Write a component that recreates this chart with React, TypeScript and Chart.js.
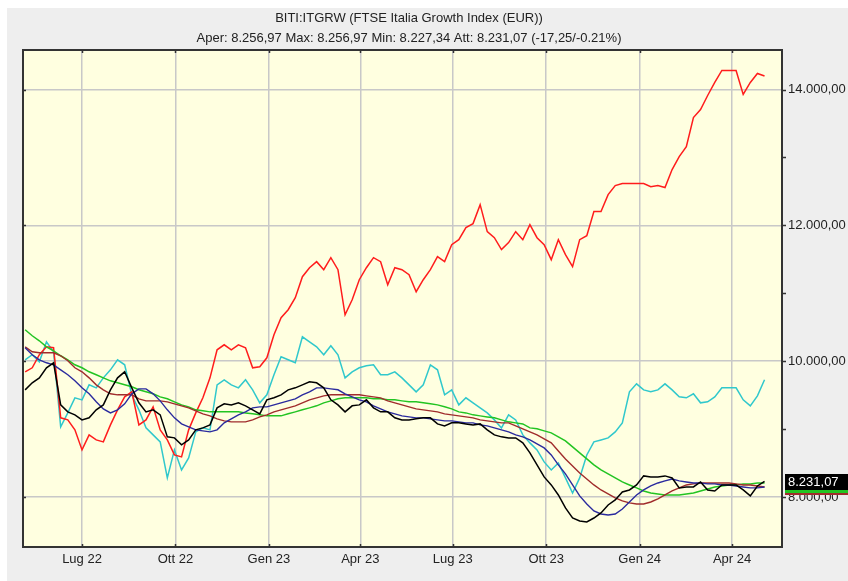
import React, { useEffect, useRef } from "react";
import { Chart, registerables } from "chart.js";

Chart.register(...registerables);

const TITLE = "BITI:ITGRW (FTSE Italia Growth Index (EUR))";
const SUBTITLE = "Aper: 8.256,97 Max: 8.256,97 Min: 8.227,34 Att: 8.231,07 (-17,25/-0.21%)";

// Days counted from 1 Jul 2022 (weekly samples)
const days = [
  -56, -49, -42, -35, -28, -21, -14, -7, 0, 7, 14, 21, 28, 35, 42, 49, 56, 63, 70, 77,
  84, 91, 98, 105, 112, 119, 126, 133, 140, 147, 154, 161, 168, 175, 182, 189, 196, 203, 210, 217,
  224, 231, 238, 245, 252, 259, 266, 273, 280, 287, 294, 301, 308, 315, 322, 329, 336, 343, 350, 357,
  364, 371, 378, 385, 392, 399, 406, 413, 420, 427, 434, 441, 448, 455, 462, 469, 476, 483, 490, 497,
  504, 511, 518, 525, 532, 539, 546, 553, 560, 567, 574, 581, 588, 595, 602, 609, 616, 623, 630, 637,
  644, 651, 658, 665, 672,
];

const xMin = -58.1;
const xMax = 689.2;
const tickDays = [0, 92, 184, 274, 365, 457, 549, 640];
const tickLabels = ["Lug 22", "Ott 22", "Gen 23", "Apr 23", "Lug 23", "Ott 23", "Gen 24", "Apr 24"];

const yMin = 7263;
const yMax = 14582;
const yTicks = [8000, 10000, 12000, 14000];
const yMinorTicks = [8000, 9000, 10000, 11000, 12000, 13000, 14000];

// FTSE Italia Growth index (black)
const indexSeries = [
  9577, 9681, 9754, 9902, 9976, 9356, 9253, 9209, 9135, 9165,
  9283, 9356, 9577, 9754, 9843, 9607, 9386, 9253, 9283, 9209,
  8885, 8870, 8767, 8840, 8988, 9017, 9061, 9312, 9371, 9356,
  9386, 9342, 9283, 9224, 9430, 9460, 9504, 9577, 9607, 9651,
  9695, 9681, 9607, 9430, 9356, 9253, 9342, 9356, 9430, 9312,
  9253, 9253, 9165, 9135, 9135, 9150, 9165, 9165, 9076, 9047,
  9091, 9091, 9076, 9061, 9076, 8988, 8914, 8885, 8870, 8870,
  8796, 8649, 8472, 8295, 8177, 8029, 7838, 7690, 7646, 7631,
  7690, 7764, 7882, 7956, 8074, 8103, 8177, 8310, 8295, 8295,
  8310, 8280, 8133, 8147, 8147, 8221, 8103, 8088, 8177, 8177,
  8177, 8103, 8015, 8162, 8231.07,
];

// Short moving average (blue)
const maShort = [
  10197, 10094, 10020, 9976, 9946, 9872, 9799, 9710, 9607, 9519,
  9401, 9297, 9238, 9283, 9371, 9519, 9592, 9592, 9519, 9415,
  9283, 9165, 9076, 9032, 8988, 8973, 8958, 8988, 9091, 9150,
  9209, 9253, 9312, 9327, 9327, 9356, 9386, 9415, 9445, 9504,
  9548, 9607, 9607, 9592, 9578, 9519, 9474, 9430, 9401, 9342,
  9297, 9253, 9224, 9194, 9179, 9165, 9165, 9150, 9135, 9120,
  9120, 9106, 9091, 9091, 9061, 9047, 9017, 8988, 8958, 8914,
  8885, 8840, 8781, 8722, 8619, 8472, 8339, 8177, 8015, 7897,
  7794, 7749, 7735, 7749, 7823, 7926, 8029, 8103, 8162, 8206,
  8236, 8265, 8236, 8221, 8206, 8206, 8192, 8192, 8177, 8177,
  8162, 8147, 8133, 8133, 8147,
];

// Medium moving average (brown)
const maMedium = [
  10211, 10138, 10123, 10123, 10123, 10079, 10005, 9902, 9843, 9754,
  9651, 9578, 9519, 9504, 9504, 9504, 9445, 9415, 9415, 9415,
  9401, 9371, 9342, 9312, 9268, 9224, 9194, 9150, 9120, 9106,
  9106, 9106, 9135, 9179, 9209, 9253, 9283, 9312, 9342, 9386,
  9430, 9460, 9489, 9504, 9504, 9504, 9504, 9504, 9489, 9474,
  9460, 9415, 9386, 9356, 9327, 9297, 9283, 9268, 9253, 9224,
  9209, 9194, 9179, 9165, 9135, 9120, 9106, 9091, 9091, 9047,
  9003, 8958, 8914, 8855, 8796, 8678, 8560, 8457, 8354, 8265,
  8177, 8103, 8044, 7985, 7941, 7912, 7897, 7897, 7926, 7971,
  8029, 8088, 8133, 8177, 8192, 8206, 8206, 8206, 8206, 8206,
  8192, 8177, 8177, 8162, 8147,
];

// Long moving average (green)
const maLong = [
  10462, 10374, 10300, 10211, 10152, 10079, 10020, 9946, 9902, 9843,
  9799, 9754, 9710, 9681, 9651, 9622, 9578, 9548, 9519, 9474,
  9445, 9401, 9356, 9327, 9283, 9268, 9253, 9253, 9253, 9253,
  9253, 9238, 9224, 9209, 9194, 9194, 9194, 9224, 9253, 9283,
  9312, 9342, 9386, 9415, 9445, 9460, 9460, 9460, 9460, 9445,
  9445, 9430, 9430, 9415, 9401, 9401, 9386, 9371, 9356, 9327,
  9297, 9253, 9238, 9209, 9194, 9179, 9165, 9135, 9106, 9091,
  9076, 9017, 9003, 8973, 8944, 8885, 8826, 8737, 8649, 8560,
  8472, 8398, 8339, 8280, 8221, 8177, 8133, 8088, 8059, 8044,
  8029, 8029, 8029, 8044, 8059, 8088, 8118, 8147, 8162, 8177,
  8177, 8192, 8192, 8206, 8206,
];

// Comparison series (red)
const redSeries = [
  9843, 9902, 10094, 10211, 10197, 9165, 9135, 8988, 8693, 8914,
  8840, 8811, 9061, 9283, 9474, 9548, 9061, 9135, 9327, 8988,
  8840, 8619, 8590, 8988, 9238, 9460, 9754, 10167, 10241, 10167,
  10241, 10197, 9902, 9917, 10049, 10388, 10639, 10757, 10934, 11243,
  11376, 11465, 11347, 11524, 11347, 10683, 10904, 11199, 11376, 11524,
  11465, 11126, 11376, 11347, 11273, 11022, 11199, 11347, 11538, 11465,
  11715, 11789, 11966, 12025, 12305, 11907, 11818, 11642, 11745, 11907,
  11789, 12010, 11818, 11715, 11494, 11789, 11568, 11391, 11789, 11848,
  12202, 12202, 12452, 12585, 12615, 12615, 12615, 12615, 12570, 12585,
  12556, 12821, 13013, 13160, 13588, 13706, 13912, 14104, 14281, 14281,
  14281, 13927, 14104, 14236, 14200,
];

// Comparison series (cyan)
const cyanSeries = [
  10020, 10094, 9990, 10285, 10138, 9032, 9238, 9460, 9430, 9651,
  9607, 9754, 9872, 10020, 9946, 9504, 9283, 9017, 8914, 8811,
  8280, 8693, 8398, 8575, 8958, 9017, 8988, 9651, 9725, 9651,
  9607, 9725, 9577, 9386, 9504, 9799, 10064, 10020, 9976, 10359,
  10285, 10211, 10094, 10226, 10094, 9754, 9843, 9902, 9931, 9946,
  9799, 9799, 9843, 9754, 9651, 9548, 9651, 9946, 9872, 9504,
  9577, 9356, 9460, 9386, 9312, 9238, 9135, 9017, 9209, 9135,
  8914, 8796, 8693, 8516, 8398, 8501, 8280, 8059, 8280, 8619,
  8811, 8840, 8870, 8958, 9091, 9548, 9666, 9577, 9548, 9577,
  9666, 9577, 9474, 9460, 9519, 9386, 9401, 9474, 9607, 9607,
  9607, 9430, 9342, 9489, 9725,
];

const COLORS = {
  index: "#000000",
  short: "#2b2b9e",
  medium: "#a02c2c",
  long: "#22c422",
  red: "#ff1c1c",
  cyan: "#30c8cc",
  panel: "#eeeeee",
  plot: "#ffffe0",
  grid: "#c8c8c8",
  frame: "#333333",
  text: "#222222",
};

const FONT = "'Liberation Sans', Arial, Helvetica, sans-serif";

function fmt(v: number): string {
  const [i, d] = Math.abs(v).toFixed(2).split(".");
  return (v < 0 ? "-" : "") + i.replace(/\B(?=(\d{3})+(?!\d))/g, ".") + "," + d;
}

const framePlugin = {
  id: "frame",
  beforeDraw(chart: any) {
    const { ctx, chartArea: a } = chart;
    ctx.save();
    ctx.fillStyle = COLORS.panel;
    ctx.fillRect(0, 0, chart.width, chart.height);
    ctx.fillStyle = COLORS.plot;
    ctx.fillRect(a.left, a.top, a.right - a.left, a.bottom - a.top);
    ctx.restore();
  },
  afterDraw(chart: any) {
    const { ctx, chartArea: a } = chart;
    const xs = chart.scales.x;
    const ys = chart.scales.y;
    ctx.save();
    // frame
    ctx.strokeStyle = COLORS.frame;
    ctx.lineWidth = 2;
    ctx.strokeRect(a.left, a.top, a.right - a.left, a.bottom - a.top);
    // tick marks
    ctx.lineWidth = 1.5;
    ctx.beginPath();
    for (const v of yMinorTicks) {
      const py = Math.round(ys.getPixelForValue(v)) + 0.5;
      ctx.moveTo(a.right, py);
      ctx.lineTo(a.right + 4, py);
    }
    for (const v of yTicks) {
      const py = Math.round(ys.getPixelForValue(v)) + 0.5;
      ctx.moveTo(a.left, py);
      ctx.lineTo(a.left + 3, py);
    }
    for (const d of tickDays) {
      const px = Math.round(xs.getPixelForValue(d)) + 0.5;
      ctx.moveTo(px, a.top);
      ctx.lineTo(px, a.top + 3);
      ctx.moveTo(px, a.bottom);
      ctx.lineTo(px, a.bottom - 3);
    }
    ctx.stroke();

    // titles
    ctx.fillStyle = COLORS.text;
    ctx.font = `13px ${FONT}`;
    ctx.textAlign = "center";
    ctx.textBaseline = "middle";
    const cx = 402;
    ctx.fillText(TITLE, cx, 10);
    ctx.fillText(SUBTITLE, cx, 30);

    // last value box
    const last = indexSeries[indexSeries.length - 1];
    const py = ys.getPixelForValue(last);
    const bx = a.right + 3;
    const top = Math.round(py - 7);
    ctx.fillStyle = "#000000";
    ctx.fillRect(bx, top, chart.width - bx, 16);
    ctx.fillStyle = COLORS.long;
    ctx.fillRect(bx, top + 16, chart.width - bx, 3);
    ctx.fillStyle = COLORS.medium;
    ctx.fillRect(bx, top + 19, chart.width - bx, 2);
    ctx.fillStyle = "#ffffff";
    ctx.textAlign = "left";
    ctx.font = `13px ${FONT}`;
    ctx.fillText(fmt(last), bx + 3, top + 8.5);
    ctx.restore();
  },
};

function series(values: number[]) {
  return days.map((d, i) => ({ x: d, y: values[i] }));
}

export default function App() {
  const ref = useRef<HTMLCanvasElement>(null);

  useEffect(() => {
    const canvas = ref.current;
    if (!canvas) return;
    const line = (label: string, values: number[], color: string, width: number) => ({
      label,
      data: series(values),
      borderColor: color,
      backgroundColor: color,
      borderWidth: width,
      pointRadius: 0,
      tension: 0,
      fill: false,
    });
    const chart = new Chart(canvas, {
      type: "line",
      data: {
        datasets: [
          line("ITGRW", indexSeries, COLORS.index, 1.5),
          line("MA breve", maShort, COLORS.short, 1.4),
          line("MA media", maMedium, COLORS.medium, 1.4),
          line("MA lunga", maLong, COLORS.long, 1.5),
          line("Confronto 1", redSeries, COLORS.red, 1.5),
          line("Confronto 2", cyanSeries, COLORS.cyan, 1.5),
        ],
      },
      options: {
        responsive: false,
        animation: false,
        devicePixelRatio: 1,
        layout: { padding: { left: 16, top: 42, right: 0, bottom: 0 } },
        plugins: {
          legend: { display: false },
          tooltip: { enabled: false },
          title: { display: false },
        },
        scales: {
          x: {
            type: "linear",
            min: xMin,
            max: xMax,
            afterFit: (s: any) => {
              s.height = 34;
            },
            afterBuildTicks: (s: any) => {
              s.ticks = tickDays.map((v) => ({ value: v }));
            },
            ticks: {
              autoSkip: false,
              maxRotation: 0,
              minRotation: 0,
              padding: 5,
              color: COLORS.text,
              font: { family: FONT, size: 13 },
              callback: (v: any) => {
                const k = tickDays.indexOf(Number(v));
                return k >= 0 ? tickLabels[k] : "";
              },
            },
            grid: { color: COLORS.grid, lineWidth: 1.5, drawTicks: false },
            border: { display: false },
          },
          y: {
            type: "linear",
            position: "right",
            min: yMin,
            max: yMax,
            afterFit: (s: any) => {
              s.width = 66;
            },
            afterBuildTicks: (s: any) => {
              s.ticks = yTicks.map((v) => ({ value: v }));
            },
            ticks: {
              padding: 6,
              color: COLORS.text,
              font: { family: FONT, size: 13 },
              callback: (v: any) => fmt(Number(v)),
            },
            grid: { color: COLORS.grid, lineWidth: 1.5, drawTicks: false },
            border: { display: false },
          },
        },
      },
      plugins: [framePlugin],
    } as any);
    return () => chart.destroy();
  }, []);

  return (
    <div
      style={{
        position: "fixed",
        left: 7,
        top: 8,
        width: 841,
        height: 573,
        background: COLORS.panel,
      }}
    >
      <canvas ref={ref} width={841} height={573} style={{ display: "block", width: 841, height: 573 }} />
    </div>
  );
}
